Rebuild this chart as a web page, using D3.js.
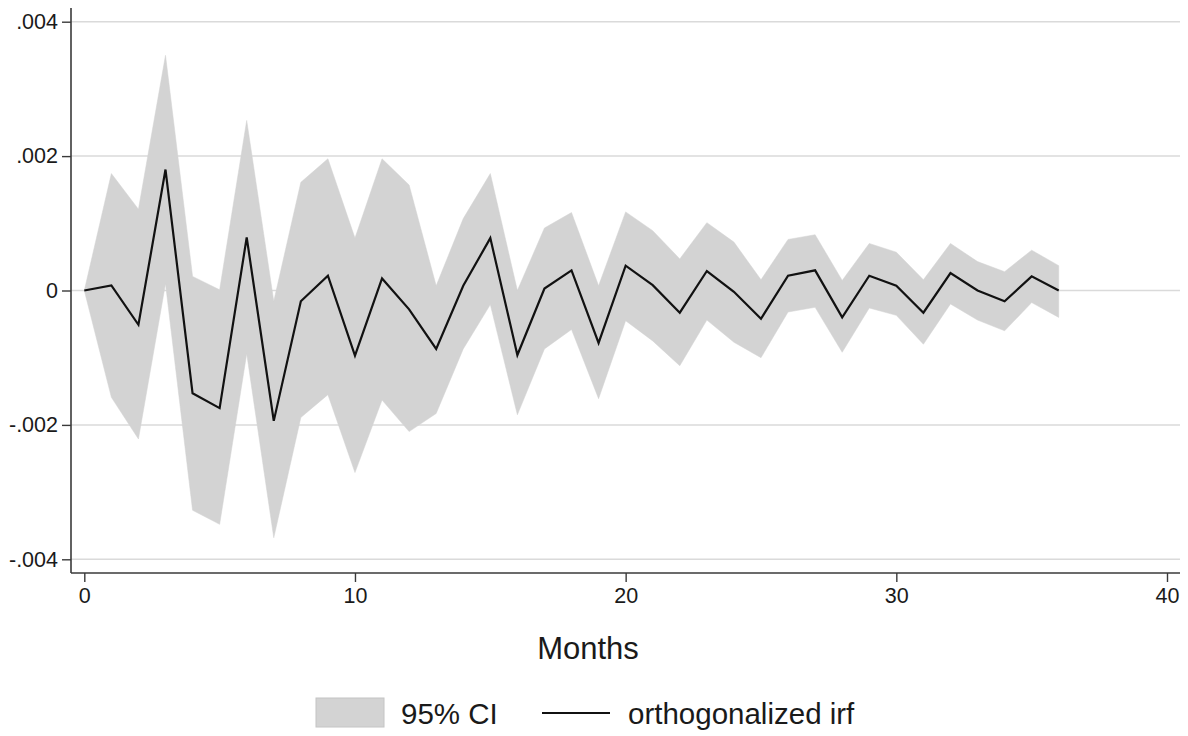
<!DOCTYPE html>
<html>
<head>
<meta charset="utf-8">
<script src="https://cdn.jsdelivr.net/npm/d3@7"></script>
<style>
  html, body { margin: 0; padding: 0; background: #fff; }
  svg { display: block; }
  text { font-family: "Liberation Sans", Arial, sans-serif; fill: #1a1a1a; }
</style>
</head>
<body>
<svg id="chart" width="1188" height="736"></svg>
<script>
// Impulse response horizon (months)
const months = d3.range(0, 37);

// Orthogonalized impulse response
const irf = [
  0, 0.000075, -0.00051, 0.0018, -0.00153, -0.00175, 0.00079, -0.00194, -0.00016, 0.00022,
  -0.00097, 0.00018, -0.00028, -0.00087, 0.00007, 0.00078, -0.00096, 0.00003, 0.0003, -0.00078,
  0.00037, 0.00008, -0.00033, 0.00029, -0.00002, -0.00042, 0.00022, 0.0003, -0.0004, 0.00022,
  0.00007, -0.00033, 0.00026, 0, -0.00016, 0.00021, 0
];

// 95% confidence band, upper bound
const ciUpper = [
  0, 0.00174, 0.00121, 0.0035, 0.00021, 0.00001, 0.00253, -0.00016, 0.00161, 0.00196,
  0.00078, 0.00196, 0.00157, 0.00007, 0.00107, 0.00174, 0, 0.00093, 0.00116, 0.00007,
  0.00117, 0.00089, 0.00047, 0.00101, 0.00072, 0.00016, 0.00076, 0.00083, 0.00015, 0.0007,
  0.00057, 0.00016, 0.0007, 0.00043, 0.00028, 0.0006, 0.00037
];

// 95% confidence band, lower bound
const ciLower = [
  0, -0.00159, -0.00221, 0.0001, -0.00327, -0.00348, -0.00094, -0.00368, -0.00189, -0.00155,
  -0.00271, -0.00163, -0.0021, -0.00183, -0.00087, -0.00021, -0.00185, -0.00087, -0.00058, -0.00161,
  -0.00045, -0.00075, -0.00112, -0.00044, -0.00077, -0.001, -0.00032, -0.00025, -0.00092, -0.00026,
  -0.00037, -0.0008, -0.0002, -0.00044, -0.0006, -0.00018, -0.0004
];

const xTicks = [0, 10, 20, 30, 40];
const yTicks = [-0.004, -0.002, 0, 0.002, 0.004];
const yTickLabels = ["-.004", "-.002", "0", ".002", ".004"];
const xTitle = "Months";
const legendLabels = ["95% CI", "orthogonalized irf"];

const svg = d3.select("#chart");

const x = d3.scaleLinear().domain([0, 40]).range([84.3, 1167]);
const y = d3.scaleLinear().domain([-0.004, 0.004]).range([559.3, 21.7]);

const plotLeft = 71, plotRight = 1180, plotTop = 8, plotBottom = 573;

// Horizontal grid lines
svg.append("g")
  .selectAll("line")
  .data(yTicks)
  .join("line")
  .attr("x1", plotLeft).attr("x2", plotRight)
  .attr("y1", d => y(d)).attr("y2", d => y(d))
  .attr("stroke", "#dadada")
  .attr("stroke-width", 1.5);

// Confidence band
const area = d3.area()
  .x((d, i) => x(months[i]))
  .y0((d, i) => y(ciLower[i]))
  .y1((d, i) => y(ciUpper[i]));

svg.append("path")
  .datum(months)
  .attr("d", area)
  .attr("fill", "#d3d3d3")
  .attr("stroke", "#d3d3d3")
  .attr("stroke-width", 0.5);

// IRF line
const line = d3.line()
  .x((d, i) => x(months[i]))
  .y((d, i) => y(irf[i]));

svg.append("path")
  .datum(months)
  .attr("d", line)
  .attr("fill", "none")
  .attr("stroke", "#111")
  .attr("stroke-width", 2.2)
  .attr("stroke-linejoin", "miter");

// Y axis
const yAxis = d3.axisLeft(y)
  .tickValues(yTicks)
  .tickFormat((d, i) => yTickLabels[i])
  .tickSize(9)
  .tickSizeOuter(0)
  .tickPadding(4);

const gy = svg.append("g")
  .attr("transform", `translate(${plotLeft},0)`)
  .call(yAxis);
gy.select(".domain").remove();
gy.append("line")
  .attr("x1", 0).attr("x2", 0)
  .attr("y1", plotTop).attr("y2", plotBottom)
  .attr("stroke", "#3a3a3a").attr("stroke-width", 1.6);
gy.selectAll(".tick line").attr("stroke", "#3a3a3a").attr("stroke-width", 1.4);
gy.selectAll(".tick text")
  .attr("font-size", 21.5)
  .attr("font-family", "Liberation Sans, Arial, sans-serif")
  .attr("fill", "#1a1a1a");

// X axis
const xAxis = d3.axisBottom(x)
  .tickValues(xTicks)
  .tickFormat(d3.format("d"))
  .tickSize(9)
  .tickSizeOuter(0)
  .tickPadding(6);

const gx = svg.append("g")
  .attr("transform", `translate(0,${plotBottom})`)
  .call(xAxis);
gx.select(".domain").remove();
gx.append("line")
  .attr("x1", plotLeft).attr("x2", plotRight)
  .attr("y1", 0).attr("y2", 0)
  .attr("stroke", "#3a3a3a").attr("stroke-width", 1.6);
gx.selectAll(".tick line").attr("stroke", "#3a3a3a").attr("stroke-width", 1.4);
gx.selectAll(".tick text")
  .attr("font-size", 21.5)
  .attr("font-family", "Liberation Sans, Arial, sans-serif")
  .attr("fill", "#1a1a1a");

// X axis title
svg.append("text")
  .attr("x", 588).attr("y", 659)
  .attr("text-anchor", "middle")
  .attr("font-size", 31)
  .text(xTitle);

// Legend
const legend = svg.append("g");
legend.append("rect")
  .attr("x", 316).attr("y", 698)
  .attr("width", 68).attr("height", 29)
  .attr("fill", "#d3d3d3")
  .attr("stroke", "#c4c4c4")
  .attr("stroke-width", 1);
legend.append("text")
  .attr("x", 401).attr("y", 724)
  .attr("font-size", 29.5)
  .text(legendLabels[0]);
legend.append("line")
  .attr("x1", 542).attr("x2", 610)
  .attr("y1", 713).attr("y2", 713)
  .attr("stroke", "#111").attr("stroke-width", 2.2);
legend.append("text")
  .attr("x", 628).attr("y", 724)
  .attr("font-size", 29.5)
  .text(legendLabels[1]);
</script>
</body>
</html>
